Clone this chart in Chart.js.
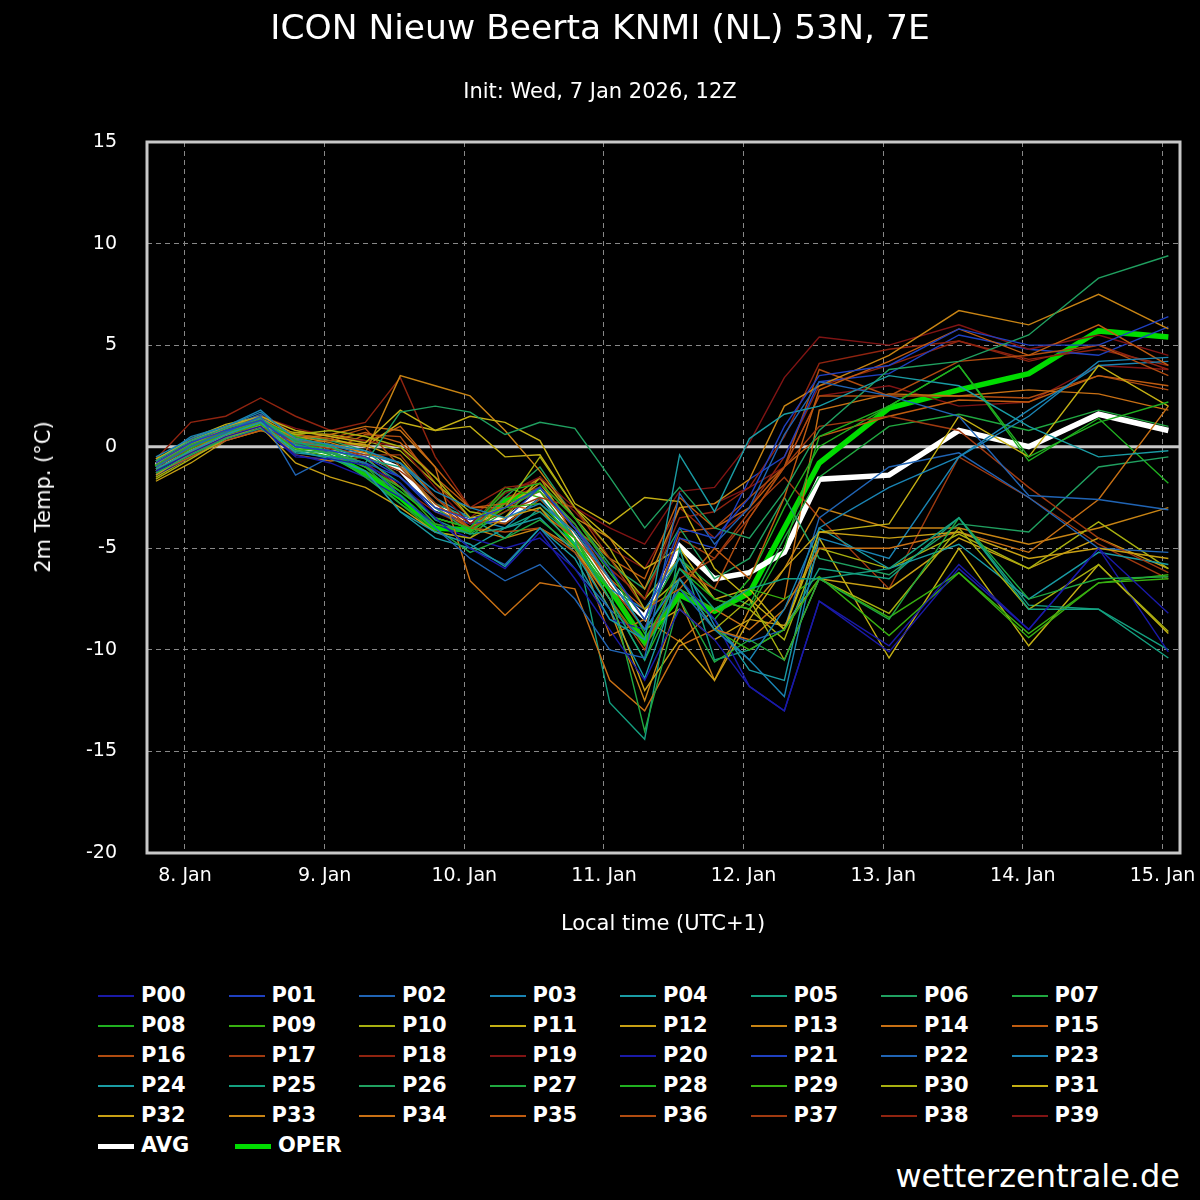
<!DOCTYPE html>
<html>
<head>
<meta charset="UTF-8">
<title>ICON Nieuw Beerta</title>
<script src="https://cdn.jsdelivr.net/npm/chart.js"></script>
<style>
  body { margin:0; background:#000; width:1200px; height:1200px; overflow:hidden; font-family:"DejaVu Sans", sans-serif; color:#fff; }
  #wrap { position:relative; width:1200px; height:1200px; }
  canvas { position:absolute; left:0; top:0; }
  .t { position:absolute; white-space:nowrap; }
  #legend { position:absolute; left:0; top:0; }
  .li { position:absolute; font-weight:bold; font-size:21px; }
  .li span { position:absolute; left:0; width:36px; }
</style>
</head>
<body>
<div id="wrap">
  <canvas id="chart" width="1200" height="960"></canvas>
  <div class="t" style="left:0;width:1200px;text-align:center;top:7px;font-size:34.5px;">ICON Nieuw Beerta KNMI (NL) 53N, 7E</div>
  <div class="t" style="left:0;width:1200px;text-align:center;top:79px;font-size:21px;">Init: Wed, 7 Jan 2026, 12Z</div>
  <div class="t" style="left:43px;top:497px;font-size:21px;transform:translate(-50%,-50%) rotate(-90deg);">2m Temp. (°C)</div>
  <div class="t" style="left:663px;top:923px;font-size:21px;transform:translate(-50%,-50%);">Local time (UTC+1)</div>
  <div class="t" style="right:20px;top:1157px;font-size:32px;">wetterzentrale.de</div>
  <div id="legend"></div>
</div>
<script>
// hours since 8 Jan 00:00 local
const hours = [-5,1,7,13,19,25,31,37,43,49,55,61,67,73,79,85,91,97,103,109,121,133,145,157,169];
const dayLabels = ['8. Jan','9. Jan','10. Jan','11. Jan','12. Jan','13. Jan','14. Jan','15. Jan'];
const yTicks = [-20,-15,-10,-5,0,5,10,15];

const memberColors = ['#1a1aa8','#1f40c0','#2064b4','#1a84b4','#1a9ca4','#14a080','#20a060','#20a840','#20b020','#38b010',
  '#a8b010','#c4b014','#c8a014','#c88414','#c87014','#c05c10','#b04c10','#a03a10','#902410','#801414'];

const members = [
 [-1.2,-0.3,0.5,1.0,-0.5,-0.6,-0.9,-1.8,-3.5,-5.0,-6.0,-4.2,-6.5,-9.0,-11.5,-8.0,-9.5,-11.8,-13.0,-7.6,-9.8,-5.8,-9.0,-5.0,-8.2],
 [-0.8,0.2,0.8,1.3,0.0,-0.2,-0.5,-1.5,-3.0,-3.6,-3.0,-2.0,-4.0,-6.0,-8.5,-4.0,-4.5,-2.5,1.0,3.5,4.0,5.8,5.0,5.0,6.4],
 [-1.0,0.0,0.7,1.5,-1.4,-0.5,-0.8,-2.4,-4.0,-5.5,-6.6,-5.8,-7.5,-10.0,-10.4,-2.3,-4.8,-3.0,0.6,3.2,2.5,1.5,-2.4,-2.6,-3.1],
 [-0.5,0.4,1.0,1.7,0.4,0.1,-0.2,-0.8,-2.2,-3.0,-3.5,-2.8,-4.2,-6.5,-9.0,-6.5,-9.0,-10.5,-8.0,-4.0,-2.0,-0.5,1.5,4.2,4.4],
 [-1.1,-0.2,0.6,1.2,-0.3,-0.5,-1.2,-3.2,-4.2,-4.8,-5.9,-4.0,-5.5,-8.5,-9.5,-0.4,-3.2,0.4,1.6,2.0,3.5,3.0,1.0,-0.5,-0.2],
 [-0.7,0.3,0.9,1.4,0.2,0.0,-0.6,-1.8,-3.6,-4.3,-4.0,-3.2,-4.8,-7.5,-10.5,-6.0,-8.0,-7.0,-6.5,-6.5,-6.0,-3.5,-8.0,-8.0,-10.4],
 [-1.3,-0.4,0.4,0.9,-0.2,-0.3,-0.8,1.7,2.0,1.7,0.6,1.2,0.9,-1.5,-4.0,-2.0,-4.0,-4.5,-2.2,0.8,3.8,4.2,5.5,8.3,9.4],
 [-0.9,0.1,0.7,1.2,0.3,-0.4,-1.5,-2.8,-4.0,-5.2,-4.5,-3.6,-5.0,-7.0,-14.0,-7.5,-10.6,-9.5,-10.5,-6.5,-8.5,-3.5,-7.5,-6.5,-6.4],
 [-1.2,-0.1,0.8,1.3,0.5,0.0,-0.9,-2.2,-3.5,-4.0,-2.2,-1.8,-3.5,-6.0,-9.2,-6.0,-7.5,-8.0,-5.0,0.5,2.0,4.0,-0.5,1.2,2.2],
 [-1.0,0.0,0.6,1.1,-0.1,-0.2,-1.0,-2.0,-3.8,-4.2,-3.0,-2.8,-4.5,-7.0,-9.5,-6.5,-9.0,-10.0,-9.0,-6.5,-8.4,-6.2,-9.2,-6.7,-6.5],
 [-1.6,-0.6,0.4,1.0,0.6,0.8,0.5,0.0,-1.5,-3.5,-3.0,-0.5,-3.0,-5.0,-8.0,-6.5,-9.0,-7.5,-10.5,-6.5,-8.2,-4.0,-8.0,-5.8,-9.1],
 [-0.6,0.3,1.0,1.5,0.8,0.5,0.2,1.8,0.8,1.5,1.2,0.3,-2.8,-3.8,-2.5,-2.7,-6.0,-7.5,-9.0,-4.2,-3.8,1.5,-0.5,4.0,2.0],
 [-1.4,-0.3,0.5,1.0,-0.8,-1.5,-2.0,-3.0,-4.2,-4.5,-3.5,-3.0,-5.0,-7.5,-12.0,-9.5,-11.5,-8.5,-6.0,-4.2,-4.5,-4.2,-5.5,-5.0,-5.5],
 [-0.8,0.1,0.9,1.4,0.5,0.2,-0.3,3.5,3.0,2.5,0.8,-1.2,-3.5,-4.5,-7.0,-3.0,-2.8,-1.6,2.0,3.0,4.5,6.7,6.0,7.5,5.8],
 [-1.1,-0.2,0.7,1.3,0.4,0.6,1.0,0.8,-1.0,-6.6,-8.3,-6.7,-7.0,-11.5,-13.0,-9.8,-9.0,-9.5,-8.0,-5.0,-5.0,-4.2,-5.2,-2.6,2.0],
 [-1.3,-0.5,0.3,0.8,0.2,0.3,0.7,0.2,-1.5,-3.0,-2.8,-3.2,-4.5,-6.5,-8.0,-7.0,-5.0,-6.5,-2.5,2.8,4.2,5.8,4.5,6.0,4.0],
 [-0.9,0.0,0.8,1.2,0.6,0.4,0.9,-1.0,-2.8,-4.0,-4.2,-4.0,-5.2,-7.5,-10.0,-6.0,-7.0,-3.5,-1.0,2.5,2.5,4.2,4.5,5.0,3.5],
 [-1.0,-0.1,0.6,1.0,0.2,-0.1,-0.4,-0.4,-2.5,-4.0,-3.2,-2.5,-3.0,-5.5,-8.0,-6.5,-5.5,-3.5,-1.0,1.0,1.5,0.8,-2.0,-4.5,-6.2],
 [-0.6,1.2,1.5,2.4,1.5,0.8,1.2,3.4,-0.5,-3.0,-2.0,-1.8,-3.5,-6.0,-7.5,-3.5,-3.2,-2.0,0.5,4.1,4.8,5.2,4.2,5.0,3.8],
 [-1.2,0.4,0.8,1.5,0.9,0.5,0.3,0.0,-2.0,-3.8,-2.3,-1.5,-3.0,-4.0,-4.8,-2.2,-2.0,0.2,3.4,5.4,5.0,6.0,4.8,5.5,4.5],
 [-1.4,-0.5,0.3,0.9,-0.4,-0.8,-1.5,-2.5,-3.8,-4.5,-5.0,-4.5,-6.0,-8.5,-9.0,-6.5,-8.5,-11.8,-13.0,-7.6,-10.1,-6.0,-9.0,-5.0,-10.1],
 [-0.9,0.0,0.8,1.2,0.2,-0.3,-0.8,-1.5,-3.2,-3.8,-3.6,-2.0,-4.0,-6.5,-9.0,-4.5,-5.0,-1.6,-0.5,3.2,3.6,5.5,4.8,4.5,5.9],
 [-1.0,0.2,0.9,1.6,0.0,-0.2,-1.0,-2.0,-3.5,-5.0,-5.8,-4.0,-6.0,-8.0,-9.5,-7.0,-9.0,-9.6,-9.0,-3.5,-1.0,-0.3,-2.5,-5.0,-5.2],
 [-0.7,0.5,1.0,1.8,0.3,0.1,-0.4,-0.8,-2.5,-3.5,-4.0,-2.5,-4.5,-7.0,-8.0,-5.5,-8.8,-10.5,-12.3,-4.5,-5.5,-0.5,1.8,4.0,4.2],
 [-1.2,-0.3,0.7,1.3,-0.2,-0.6,-1.2,-3.2,-4.5,-5.0,-4.0,-3.5,-5.2,-8.0,-11.4,-6.5,-8.5,-11.0,-11.5,-4.0,-6.0,-4.8,-7.5,-5.2,-5.8],
 [-0.8,0.1,0.9,1.4,0.1,-0.2,-0.6,-1.0,-2.8,-3.5,-4.5,-3.0,-4.5,-12.6,-14.4,-5.0,-10.5,-10.0,-9.0,-6.0,-6.5,-3.5,-7.8,-8.0,-10.0],
 [-1.1,-0.2,0.6,1.1,0.5,0.3,-0.2,-1.5,-3.0,-4.2,-2.5,-1.0,-3.5,-5.8,-7.0,-4.0,-6.5,-5.5,-2.5,-5.5,-6.3,-3.8,-4.2,-1.0,-0.5],
 [-0.9,0.0,0.7,1.3,0.0,-0.3,-1.0,-2.5,-3.8,-4.3,-3.2,-2.0,-3.8,-6.2,-8.5,-5.5,-7.0,-7.8,-4.5,-1.5,1.0,1.6,0.8,1.8,1.0],
 [-1.0,-0.1,0.8,1.2,0.1,-0.4,-1.3,-2.8,-4.2,-4.5,-2.8,-2.2,-4.5,-7.5,-10.5,-7.0,-8.5,-6.5,-3.0,0.0,2.0,4.0,-0.7,1.4,-1.8],
 [-1.3,-0.4,0.5,1.0,-0.1,-0.5,-1.2,-2.2,-3.5,-4.0,-2.0,-2.5,-4.5,-7.5,-9.8,-7.0,-8.0,-7.0,-7.5,-6.4,-9.3,-6.2,-9.4,-6.7,-6.3],
 [-1.5,-0.5,0.4,0.9,0.7,0.6,0.3,-0.2,-1.8,-3.2,-3.5,-1.5,-3.5,-5.5,-7.5,-5.5,-7.5,-8.0,-9.5,-5.0,-6.0,-4.3,-6.0,-3.7,-6.0],
 [-0.7,0.4,1.1,1.5,0.6,0.4,0.0,1.2,0.8,1.0,-0.5,-0.4,-3.0,-4.5,-6.0,-5.0,-7.5,-7.0,-9.0,-4.5,-10.4,-5.0,-9.8,-5.8,-9.2],
 [-1.7,-0.8,0.3,0.8,0.6,0.3,0.1,-0.6,-2.5,-4.0,-3.0,-1.8,-4.0,-6.5,-9.0,-8.0,-9.5,-8.5,-8.8,-6.5,-7.0,-4.5,-6.0,-4.5,-6.0],
 [-0.8,0.2,1.0,1.4,0.4,0.1,-0.3,-0.8,-3.0,-4.0,-4.5,-4.0,-5.0,-8.0,-12.5,-7.5,-11.5,-8.0,-6.0,-3.0,-4.0,-4.0,-4.8,-4.0,-3.0],
 [-1.2,-0.2,0.6,1.1,-0.4,-0.7,-0.5,-2.0,-3.5,-4.0,-2.8,-1.5,-4.5,-9.3,-8.5,-9.6,-8.0,-9.0,-7.5,1.8,2.6,2.5,2.8,2.6,1.8],
 [-0.9,0.1,0.8,1.3,0.3,0.0,0.2,1.0,-1.0,-3.0,-3.0,-2.2,-4.0,-5.5,-6.5,-2.5,-4.0,-3.0,-1.0,0.5,1.5,2.3,2.2,3.5,3.0],
 [-1.1,-0.3,0.5,1.0,0.0,-0.2,0.6,0.5,-1.8,-3.5,-3.8,-2.6,-4.2,-6.8,-9.0,-4.2,-4.0,-2.5,-1.0,3.8,2.5,2.5,2.4,3.5,2.8],
 [-1.0,0.0,0.7,1.2,0.2,0.0,-0.5,-1.2,-2.5,-3.8,-3.0,-2.0,-3.8,-6.5,-9.0,-4.5,-5.5,-3.2,-1.5,-3.5,-7.0,-0.5,-2.5,-4.8,-6.5],
 [-1.2,-0.2,0.6,1.2,0.1,-0.3,-0.8,-2.0,-3.2,-4.0,-2.5,-2.0,-4.0,-6.0,-7.5,-3.0,-4.5,-3.0,-0.5,3.0,4.0,5.2,4.3,4.8,4.0],
 [-0.8,0.3,0.9,1.6,0.6,0.3,0.0,-1.5,-3.0,-3.5,-2.2,-1.6,-3.2,-5.0,-6.0,-3.0,-2.8,-2.0,-1.0,2.5,3.0,2.0,2.2,4.0,3.8]
];
const avg  = [-0.9,-0.2,0.6,1.1,-0.1,-0.3,-0.4,-1.1,-3.0,-3.6,-3.6,-2.3,-4.5,-6.8,-8.4,-4.9,-6.5,-6.2,-5.2,-1.6,-1.4,0.8,0.0,1.6,0.8];
const oper = [-1.0,0.0,0.9,1.2,0.3,-0.4,-1.3,-2.5,-4.0,-4.1,-2.6,-2.2,-4.8,-7.0,-9.6,-7.3,-8.1,-7.2,-4.0,-0.8,1.9,2.8,3.6,5.7,5.4];

const names = members.map((m, i) => 'P' + String(i).padStart(2, '0'));
const toPts = arr => arr.map((v, i) => ({ x: hours[i], y: v }));

const datasets = members.map((m, i) => ({
  label: names[i], data: toPts(m), borderColor: memberColors[i % 20],
  borderWidth: 1.4, pointRadius: 0, tension: 0
}));
datasets.push({ label: 'AVG', data: toPts(avg), borderColor: '#ffffff', borderWidth: 5.5, pointRadius: 0 });
datasets.push({ label: 'OPER', data: toPts(oper), borderColor: '#00dd00', borderWidth: 5.5, pointRadius: 0 });

const frame = {
  id: 'frame',
  beforeDatasetsDraw(c) {
    const a = c.chartArea, ctx = c.ctx, y0 = c.scales.y.getPixelForValue(0);
    ctx.save();
    ctx.strokeStyle = '#c8c8c8'; ctx.lineWidth = 3;
    ctx.beginPath(); ctx.moveTo(a.left, y0); ctx.lineTo(a.right, y0); ctx.stroke();
    ctx.restore();
  },
  afterDraw(c) {
    const a = c.chartArea, ctx = c.ctx;
    ctx.save();
    ctx.strokeStyle = '#c8c8c8'; ctx.lineWidth = 3;
    ctx.strokeRect(a.left, a.top, a.right - a.left, a.bottom - a.top);
    ctx.restore();
  }
};

new Chart(document.getElementById('chart'), {
  type: 'line',
  data: { datasets },
  plugins: [frame],
  options: {
    responsive: false, animation: false,
    layout: { padding: { top: 142, right: 20, left: 0, bottom: 0 } },
    plugins: { legend: { display: false }, tooltip: { enabled: false } },
    scales: {
      x: {
        type: 'linear', min: -6.53, max: 171.0,
        afterBuildTicks: s => { s.ticks = dayLabels.map((d, i) => ({ value: i * 24 })); },
        afterFit: s => { s.height = 107; s.paddingRight = 0; },
        ticks: { color: '#fff', font: { family: 'DejaVu Sans', size: 19 }, padding: 12, maxRotation: 0,
                 callback: (v) => dayLabels[Math.round(v / 24)] },
        grid: { color: '#888', drawTicks: false, lineWidth: 1 },
        border: { display: false, dash: [5, 4] }
      },
      y: {
        min: -20, max: 15,
        afterBuildTicks: s => { s.ticks = yTicks.map(v => ({ value: v })); },
        afterFit: s => { s.width = 147; },
        ticks: { color: '#fff', font: { family: 'DejaVu Sans', size: 19 }, padding: 30 },
        grid: { color: '#888', drawTicks: false, lineWidth: 1 },
        border: { display: false, dash: [5, 4] }
      }
    }
  }
});

// legend
const leg = document.getElementById('legend');
const items = names.map((n, i) => ({ n, c: memberColors[i % 20], w: 2 }))
  .concat([{ n: 'AVG', c: '#fff', w: 5 }, { n: 'OPER', c: '#00dd00', w: 5 }]);
items.forEach((it, i) => {
  const r = Math.floor(i / 8), col = i % 8;
  let left = 98 + col * 130.5;
  if (i >= 40) left = 98 + (i - 40) * 137;
  const d = document.createElement('div');
  d.className = 'li';
  d.style.left = left + 'px';
  d.style.top = (983 + r * 30) + 'px';
  d.innerHTML = '<span style="height:' + it.w + 'px;background:' + it.c + ';top:' + (13 - it.w / 2) + 'px"></span>' +
    '<b style="margin-left:43px">' + it.n + '</b>';
  leg.appendChild(d);
});
</script>
</body>
</html>
